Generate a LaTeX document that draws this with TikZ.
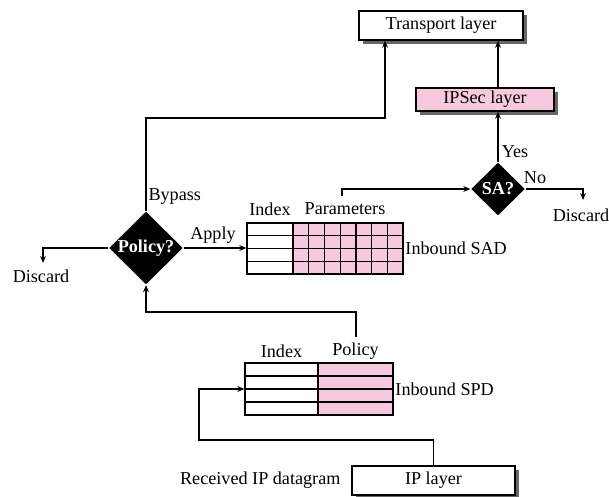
\documentclass[tikz,border=0pt]{standalone}
\usepackage{fontspec}
\setmainfont{Liberation Serif}
\usetikzlibrary{arrows.meta,shapes.geometric,shadows}
\definecolor{sapink}{RGB}{247,201,222}

\begin{document}
\begin{tikzpicture}[x=0.03cm,y=-0.03cm,
  font=\fontsize{15.5}{18}\selectfont, line width=1.1pt,
  >={Stealth[length=6pt,width=5pt]},
  layer/.style={draw,fill=white,inner sep=0pt,
    drop shadow={shadow xshift=3pt,shadow yshift=-3pt,fill=black!60,opacity=1}},
  decide/.style={diamond,fill=black,text=white,inner sep=0pt,
    font=\fontsize{15.5}{18}\selectfont\bfseries},
  tbl/.style={draw,inner sep=0pt}]
  \useasboundingbox (0,0) rectangle (609,496);

  \node[layer,minimum width=4.92cm,minimum height=0.87cm] (transport) at (441,25.5) {Transport layer};
  \node[layer,fill=sapink,minimum width=4.14cm,minimum height=0.69cm] (ipsec) at (485,99.5) {IPSec layer};
  \node[layer,minimum width=4.89cm,minimum height=0.87cm] (ip) at (433.5,480.5) {IP layer};
  \node[anchor=east] (recv) at (345,480) {Received IP datagram};

  \node[decide,minimum width=2.22cm,minimum height=2.19cm] (policy) at (146,248) {Policy?};
  \node[decide,minimum width=1.62cm,minimum height=1.59cm] (sa) at (498,189) {SA?};

  % inbound SAD
  \fill[sapink] (293,223) rectangle (403,274);
  \foreach \r in {1,2,3}
    \draw (247,223+12.75*\r) -- (403,223+12.75*\r);
  \foreach \c in {0,...,6}
    \draw (293+15.714*\c,223) -- (293+15.714*\c,274);
  \node[tbl,minimum width=4.68cm,minimum height=1.53cm] (sad) at (325,248.5) {};
  \node (sadidx) at (270,209) {Index};
  \node (sadpar) at (345,209) {Parameters};
  \node[anchor=west,inner sep=1pt] (sadname) at (sad.east) {Inbound SAD};

  % inbound SPD
  \fill[sapink] (318,363) rectangle (393,415);
  \foreach \r in {1,2,3}
    \draw (245,363+13*\r) -- (393,363+13*\r);
  \draw (318,363) -- (318,415);
  \node[tbl,minimum width=4.44cm,minimum height=1.56cm] (spd) at (319,389) {};
  \node (spdidx) at (281.5,351) {Index};
  \node (spdpol) at (355.5,351) {Policy};
  \node[anchor=west,inner sep=1pt] (spdname) at (spd.east) {Inbound SPD};

  \coordinate (bypass) at (385,118);
  \coordinate (par) at (342,196);
  \coordinate (pol) at (356,337);
  \coordinate (dleft) at (43,263);
  \coordinate (dright) at (583,200);

  \draw[->] (ip.north) |- (199,440) |- (spd.west);
  \draw[->] (pol) |- (146,312) -- (policy.south);
  \draw[->] (policy.east) -- (policy.east -| sad.west);
  \draw[->] (policy.west) -| (dleft);
  \draw[->] (policy.north) |- (bypass) -- (bypass |- transport.south);
  \draw[->] (par) |- (sa.west);
  \draw[->] (sa.east) -| (dright);
  \draw[->] (sa.north) -- (sa |- ipsec.south);
  \draw[->] (ipsec.north -| sa) -- (sa |- transport.south);

  \node (apply) at (213,235) {Apply};
  \node[anchor=west] (bplabel) at (144,197) {Bypass};
  \node (ldiscard) at (41,276) {Discard};
  \node (rdiscard) at (581,215) {Discard};
  \node (yes) at (515,152) {Yes};
  \node (no) at (535,178) {No};
\end{tikzpicture}
\end{document}
